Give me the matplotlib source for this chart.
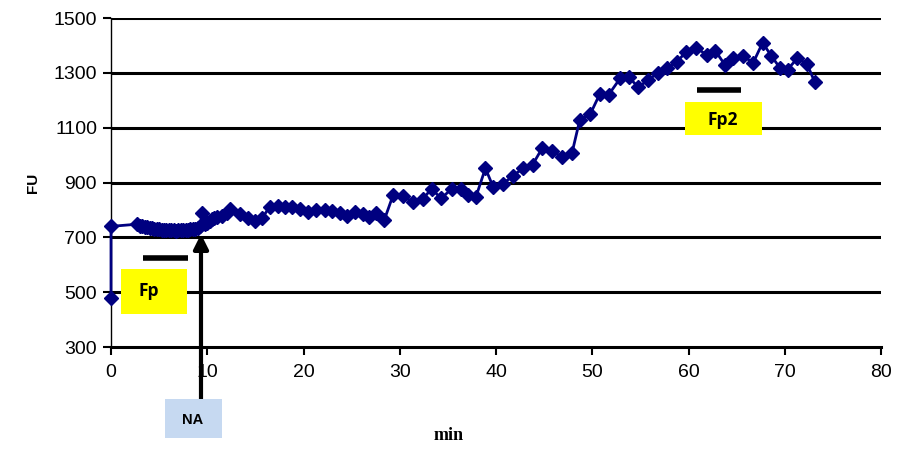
import matplotlib
matplotlib.use("Agg")
import matplotlib.pyplot as plt
from matplotlib.patches import Rectangle

time_min = [0, 0, 2.75, 3.0, 3.25, 3.5, 3.75, 4.0, 4.25, 4.5, 4.75, 5.0, 5.25, 5.5,
            5.75, 6.0, 6.25, 6.5, 6.75, 7.0, 7.25, 7.5, 7.75, 8.0, 8.25, 8.5, 8.75,
            9.0, 9.25, 9.5, 9.75, 10.0, 10.25, 10.5, 10.75, 11.0, 11.5, 12.0, 12.4,
            13.4, 14.2, 15.0, 15.7, 16.5, 17.4, 18.1, 18.8, 19.6, 20.5, 21.3, 22.2,
            23.0, 23.8, 24.5, 25.4, 26.2, 26.8, 27.5, 28.4, 29.3, 30.3, 31.4, 32.4,
            33.3, 34.3, 35.4, 36.4, 37.1, 37.9, 38.9, 39.7, 40.7, 41.8, 42.8, 43.8,
            44.8, 45.8, 46.9, 47.9, 48.7, 49.8, 50.8, 51.7, 52.9, 53.8, 54.8, 55.8,
            56.8, 57.8, 58.8, 59.7, 60.8, 61.9, 62.8, 63.8, 64.6, 65.7, 66.7, 67.7,
            68.6, 69.5, 70.3, 71.3, 72.3, 73.1]
fu_values = [480, 740, 748, 742, 740, 739, 737, 735, 733, 731, 730, 729, 728, 727,
             726, 726, 725, 725, 724, 725, 725, 726, 727, 728, 729, 730, 732,
             735, 740, 790, 748, 752, 758, 766, 770, 774, 778, 790, 802,
             786, 770, 758, 770, 812, 815, 812, 810, 805, 792, 798, 800,
             797, 790, 776, 792, 786, 774, 788, 764, 853, 851, 828, 840,
             877, 842, 877, 876, 855, 846, 952, 884, 895, 925, 952, 965,
             1025, 1014, 993, 1008, 1128, 1150, 1224, 1220, 1280, 1284, 1247, 1275,
             1298, 1317, 1340, 1375, 1392, 1365, 1380, 1328, 1355, 1363, 1335, 1410,
             1362, 1318, 1312, 1353, 1333, 1268]

x_ticks = [0, 10, 20, 30, 40, 50, 60, 70, 80]
y_ticks = [300, 500, 700, 900, 1100, 1300, 1500]

W, H = 901, 449
fig = plt.figure(figsize=(W / 100, H / 100), dpi=100)
ax = fig.add_axes([111 / W, 1 - 347 / H, (881 - 111) / W, (347 - 18) / H])

ax.set_xlim(0, 80)
ax.set_ylim(300, 1500)
ax.set_xticks(x_ticks)
ax.set_yticks(y_ticks)

for yv in y_ticks[1:]:
    ax.axhline(yv, color="black", lw=2.2, zorder=1)

ax.plot(time_min, fu_values, color="#000080", lw=2, marker="D", markersize=7.5,
        markeredgecolor="#000080", zorder=3, clip_on=False)

for s in ["top", "right"]:
    ax.spines[s].set_visible(False)
ax.spines["left"].set_linewidth(1.0)
ax.spines["bottom"].set_linewidth(2.2)

ax.tick_params(axis="y", direction="out", length=6, width=1.5, pad=4)
ax.tick_params(axis="x", direction="out", length=6, width=1.5, pad=6)
for lab in ax.get_xticklabels() + ax.get_yticklabels():
    lab.set_fontfamily("Liberation Sans")
    lab.set_fontsize(14)

ax.set_ylabel("FU", fontfamily="Liberation Sans", fontweight="bold", fontsize=11, labelpad=10)
fig.text(449 / W, 1 - 435 / H, "min", fontfamily="Liberation Serif", fontweight="bold",
         fontsize=13, ha="center", va="center")

# Fp annotation
ax.add_patch(Rectangle((1.04, 422), 6.86, 162, facecolor="#ffff00", edgecolor="none", zorder=4))
ax.text(3.9, 505, "Fp", fontfamily="Open Sans", fontweight="bold", fontsize=12.5,
        ha="center", va="center", zorder=5)
ax.plot([3.3, 8.0], [624, 624], color="black", lw=4, solid_capstyle="butt", zorder=4)

# Fp2 annotation
ax.add_patch(Rectangle((59.6, 1073), 8.0, 122, facecolor="#ffff00", edgecolor="none", zorder=4))
ax.text(63.6, 1128, "Fp2", fontfamily="Open Sans", fontweight="bold", fontsize=12.5,
        ha="center", va="center", zorder=5)
ax.plot([60.9, 65.5], [1239, 1239], color="black", lw=4, solid_capstyle="butt", zorder=4)

# NA box and arrow
fig.patches.append(Rectangle((165 / W, 1 - 438 / H), 57 / W, 39 / H, facecolor="#c6d9f1",
                             edgecolor="none", transform=fig.transFigure, figure=fig, zorder=1))
fig.text(193 / W, 1 - 420 / H, "NA", fontfamily="Liberation Sans", fontweight="bold",
         fontsize=10.5, ha="center", va="center")
ax.annotate("", xy=(9.35, 712), xytext=(9.35, 80), annotation_clip=False,
            arrowprops=dict(arrowstyle="-|>", color="black", lw=3, mutation_scale=22,
                            shrinkA=0, shrinkB=0), zorder=6)

fig.savefig("out.png", dpi=100)
